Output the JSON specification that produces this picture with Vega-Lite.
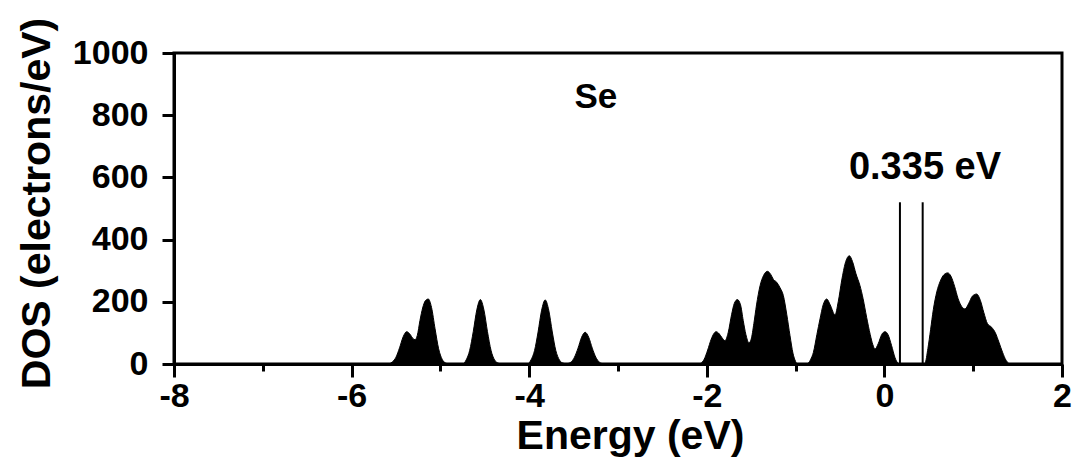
{
  "$schema": "https://vega.github.io/schema/vega-lite/v6.json",
  "width": 888,
  "height": 311,
  "autosize": "none",
  "padding": {"left": 174, "top": 53, "right": 14, "bottom": 106},
  "background": "white",
  "config": {
    "view": {"stroke": "black", "strokeWidth": 3},
    "font": "Liberation Sans"
  },
  "layer": [
    {
      "data": {"values": [
        {"energy": -5.58, "dos": 0}, {"energy": -5.54, "dos": 7}, {"energy": -5.50, "dos": 22}, {"energy": -5.46, "dos": 52},
        {"energy": -5.42, "dos": 87}, {"energy": -5.38, "dos": 104}, {"energy": -5.34, "dos": 95}, {"energy": -5.31, "dos": 82},
        {"energy": -5.286, "dos": 78}, {"energy": -5.26, "dos": 92}, {"energy": -5.23, "dos": 140}, {"energy": -5.20, "dos": 180},
        {"energy": -5.17, "dos": 203}, {"energy": -5.136, "dos": 209}, {"energy": -5.10, "dos": 182}, {"energy": -5.06, "dos": 113},
        {"energy": -5.02, "dos": 49}, {"energy": -4.98, "dos": 15}, {"energy": -4.94, "dos": 3}, {"energy": -4.90, "dos": 0},
        {"energy": -4.75, "dos": 0}, {"energy": -4.71, "dos": 13}, {"energy": -4.67, "dos": 44}, {"energy": -4.63, "dos": 104},
        {"energy": -4.59, "dos": 174}, {"energy": -4.55, "dos": 207}, {"energy": -4.51, "dos": 174}, {"energy": -4.47, "dos": 104},
        {"energy": -4.43, "dos": 44}, {"energy": -4.39, "dos": 13}, {"energy": -4.35, "dos": 3}, {"energy": -4.31, "dos": 0},
        {"energy": -4.02, "dos": 0}, {"energy": -3.98, "dos": 13}, {"energy": -3.94, "dos": 43}, {"energy": -3.90, "dos": 103},
        {"energy": -3.86, "dos": 173}, {"energy": -3.82, "dos": 206}, {"energy": -3.78, "dos": 173}, {"energy": -3.74, "dos": 103},
        {"energy": -3.70, "dos": 43}, {"energy": -3.66, "dos": 13}, {"energy": -3.62, "dos": 3}, {"energy": -3.58, "dos": 1},
        {"energy": -3.53, "dos": 6}, {"energy": -3.49, "dos": 22}, {"energy": -3.45, "dos": 51}, {"energy": -3.41, "dos": 86},
        {"energy": -3.37, "dos": 102}, {"energy": -3.33, "dos": 86}, {"energy": -3.29, "dos": 51}, {"energy": -3.25, "dos": 22},
        {"energy": -3.21, "dos": 6}, {"energy": -3.17, "dos": 1}, {"energy": -3.13, "dos": 0},
        {"energy": -2.10, "dos": 0}, {"energy": -2.07, "dos": 2}, {"energy": -2.03, "dos": 15}, {"energy": -1.99, "dos": 45},
        {"energy": -1.95, "dos": 80}, {"energy": -1.92, "dos": 98}, {"energy": -1.896, "dos": 104}, {"energy": -1.86, "dos": 97},
        {"energy": -1.83, "dos": 85}, {"energy": -1.795, "dos": 75}, {"energy": -1.76, "dos": 100}, {"energy": -1.72, "dos": 160},
        {"energy": -1.69, "dos": 195}, {"energy": -1.656, "dos": 207}, {"energy": -1.62, "dos": 190}, {"energy": -1.59, "dos": 140},
        {"energy": -1.56, "dos": 95}, {"energy": -1.525, "dos": 68}, {"energy": -1.50, "dos": 80}, {"energy": -1.47, "dos": 130},
        {"energy": -1.44, "dos": 190}, {"energy": -1.40, "dos": 252}, {"energy": -1.36, "dos": 285}, {"energy": -1.318, "dos": 298},
        {"energy": -1.28, "dos": 288}, {"energy": -1.25, "dos": 272}, {"energy": -1.213, "dos": 263}, {"energy": -1.175, "dos": 245},
        {"energy": -1.138, "dos": 220}, {"energy": -1.10, "dos": 160}, {"energy": -1.063, "dos": 91}, {"energy": -1.03, "dos": 35},
        {"energy": -1.00, "dos": 8}, {"energy": -0.98, "dos": 0},
        {"energy": -0.88, "dos": 0}, {"energy": -0.857, "dos": 3}, {"energy": -0.83, "dos": 15}, {"energy": -0.80, "dos": 37},
        {"energy": -0.76, "dos": 95}, {"energy": -0.725, "dos": 145}, {"energy": -0.69, "dos": 190}, {"energy": -0.65, "dos": 209},
        {"energy": -0.61, "dos": 190}, {"energy": -0.556, "dos": 158}, {"energy": -0.52, "dos": 200}, {"energy": -0.48, "dos": 270},
        {"energy": -0.44, "dos": 325}, {"energy": -0.395, "dos": 348}, {"energy": -0.36, "dos": 330}, {"energy": -0.32, "dos": 290},
        {"energy": -0.275, "dos": 252}, {"energy": -0.24, "dos": 210}, {"energy": -0.20, "dos": 150}, {"energy": -0.16, "dos": 95},
        {"energy": -0.13, "dos": 62}, {"energy": -0.106, "dos": 48}, {"energy": -0.07, "dos": 65}, {"energy": -0.03, "dos": 95},
        {"energy": 0.007, "dos": 104}, {"energy": 0.04, "dos": 95}, {"energy": 0.08, "dos": 60}, {"energy": 0.12, "dos": 20},
        {"energy": 0.15, "dos": 3}, {"energy": 0.16, "dos": 0},
        {"energy": 0.44, "dos": 0}, {"energy": 0.458, "dos": 3}, {"energy": 0.49, "dos": 50}, {"energy": 0.52, "dos": 110},
        {"energy": 0.551, "dos": 175}, {"energy": 0.59, "dos": 232}, {"energy": 0.63, "dos": 267}, {"energy": 0.67, "dos": 287},
        {"energy": 0.713, "dos": 293}, {"energy": 0.75, "dos": 282}, {"energy": 0.79, "dos": 250}, {"energy": 0.83, "dos": 210},
        {"energy": 0.87, "dos": 185}, {"energy": 0.908, "dos": 177}, {"energy": 0.95, "dos": 195}, {"energy": 0.99, "dos": 218},
        {"energy": 1.039, "dos": 225}, {"energy": 1.08, "dos": 205}, {"energy": 1.12, "dos": 165}, {"energy": 1.16, "dos": 130},
        {"energy": 1.208, "dos": 118}, {"energy": 1.25, "dos": 100}, {"energy": 1.29, "dos": 70}, {"energy": 1.33, "dos": 38},
        {"energy": 1.37, "dos": 12}, {"energy": 1.40, "dos": 2}, {"energy": 1.42, "dos": 0}
      ]},
      "mark": {"type": "area", "color": "black", "interpolate": "monotone", "stroke": "black", "strokeWidth": 1},
      "encoding": {
        "x": {
          "field": "energy", "type": "quantitative",
          "scale": {"domain": [-8, 2], "nice": false, "zero": false},
          "axis": {
            "values": [-8, -7, -6, -5, -4, -3, -2, -1, 0, 1, 2],
            "labelExpr": "datum.value % 2 === 0 ? '' + datum.value : ''",
            "title": "Energy (eV)",
            "grid": false,
            "domainColor": "black", "domainWidth": 3,
            "tickColor": "black", "tickWidth": 3,
            "tickSize": {"condition": {"test": "datum.value % 2 === 0", "value": 13}, "value": 7},
            "labelFont": "Liberation Sans", "labelFontSize": 34, "labelFontWeight": "bold", "labelColor": "black",
            "labelPadding": 2, "labelFlush": false, "labelOverlap": false,
            "titleFont": "Liberation Sans", "titleFontSize": 41, "titleFontWeight": "bold", "titleColor": "black",
            "titlePadding": 3, "titleX": 456
          }
        },
        "y": {
          "field": "dos", "type": "quantitative",
          "scale": {"domain": [0, 1000], "nice": false},
          "axis": {
            "values": [0, 100, 200, 300, 400, 500, 600, 700, 800, 900, 1000],
            "labelExpr": "datum.value % 200 === 0 ? '' + datum.value : ''",
            "title": "DOS (electrons/eV)",
            "grid": false,
            "domainColor": "black", "domainWidth": 3,
            "tickColor": "black", "tickWidth": 3,
            "tickSize": {"condition": {"test": "datum.value % 200 === 0", "value": 12}, "value": 6},
            "labelFont": "Liberation Sans", "labelFontSize": 34, "labelFontWeight": "bold", "labelColor": "black",
            "labelPadding": 14, "labelFlush": false, "labelOverlap": false,
            "titleFont": "Liberation Sans", "titleFontSize": 41, "titleFontWeight": "bold", "titleColor": "black",
            "titlePadding": 14, "titleY": 150
          }
        }
      }
    },
    {
      "data": {"values": [{"energy": 0.175, "top": 520, "bottom": 0}, {"energy": 0.431, "top": 520, "bottom": 0}]},
      "mark": {"type": "rule", "color": "black", "strokeWidth": 2},
      "encoding": {
        "x": {"field": "energy", "type": "quantitative"},
        "y": {"field": "top", "type": "quantitative"},
        "y2": {"field": "bottom"}
      }
    },
    {
      "data": {"values": [{"energy": -3.25, "dos": 822, "label": "Se"}]},
      "mark": {"type": "text", "font": "Liberation Sans", "fontWeight": "bold", "fontSize": 35, "baseline": "alphabetic", "align": "center", "color": "black"},
      "encoding": {
        "x": {"field": "energy", "type": "quantitative"},
        "y": {"field": "dos", "type": "quantitative"},
        "text": {"field": "label"}
      }
    },
    {
      "data": {"values": [{"energy": 0.457, "dos": 595, "label": "0.335 eV"}]},
      "mark": {"type": "text", "font": "Liberation Sans", "fontWeight": "bold", "fontSize": 38, "baseline": "alphabetic", "align": "center", "color": "black"},
      "encoding": {
        "x": {"field": "energy", "type": "quantitative"},
        "y": {"field": "dos", "type": "quantitative"},
        "text": {"field": "label"}
      }
    }
  ]
}
